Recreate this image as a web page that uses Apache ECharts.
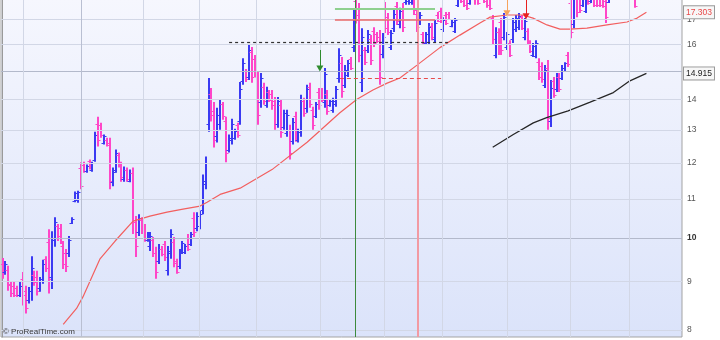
<!DOCTYPE html>
<html><head><meta charset="utf-8">
<script src="https://cdn.jsdelivr.net/npm/echarts@6/dist/echarts.min.js"></script>
<style>html,body{margin:0;padding:0;background:#fff}#c{width:720px;height:340px}</style>
</head><body><div id="c"></div>
<script>
// ---- OHLC bars (index = bar number) ----
const opens = [9.40,9.22,9.25,8.92,8.90,8.85,8.72,9.05,8.80,8.60,
8.80,9.15,9.10,8.85,9.05,9.50,9.90,9.10,9.95,10.30,
10.25,9.80,9.65,9.65,10.38,10.95,10.98,11.85,11.95,11.76,
12.05,11.80,12.10,13.20,13.15,12.60,12.70,12.60,11.45,11.80,
12.25,11.95,11.55,11.80,11.50,11.70,10.40,10.15,10.45,10.25,
9.95,9.80,9.95,9.65,9.45,9.75,9.85,9.25,9.65,9.90,
9.42,9.35,9.68,9.66,10.00,9.85,10.50,10.25,10.30,10.70,
11.40,13.20,14.20,13.60,12.80,13.20,13.85,13.30,12.40,12.70,
12.75,13.15,13.30,14.65,15.00,14.80,15.70,15.45,14.80,13.90,
14.45,13.80,14.25,14.20,13.95,13.20,13.80,13.10,12.90,13.00,
12.65,13.45,12.68,12.95,13.95,13.70,14.45,13.65,13.45,14.25,
14.30,13.90,14.20,13.80,13.65,13.85,14.75,15.30,14.50,14.85,
15.45,15.90,17.80,17.20,14.60,15.80,15.80,16.20,16.55,16.40,
16.30,15.65,17.50,17.10,15.90,16.65,17.55,16.80,17.50,17.75,
17.80,17.75,18.00,17.25,16.85,16.40,16.05,16.10,16.75,16.20,
17.20,17.35,16.60,17.20,17.25,16.72,16.55,17.60,18.10,17.95,
17.85,17.70,18.00,18.30,18.20,18.05,18.30,18.05,17.95,17.05,
15.60,16.50,16.90,16.30,15.90,16.05,16.20,16.60,16.70,17.10,
16.30,16.55,16.10,15.60,15.55,15.35,15.20,14.50,15.10,13.30,
14.65,14.35,14.80,14.75,15.02,15.60,17.70,16.80,18.10,17.90,
17.60,17.35,18.20,17.80,17.95,18.00,17.95,17.90,17.80,17.72,
18.15,18.95,18.20,18.75,18.50,17.95,18.40,17.95,17.95,17.95,
18.35,18.00,18.10];
const highs = [9.53,9.46,9.35,9.01,8.99,8.91,9.01,9.21,8.91,8.88,
9.57,9.24,9.24,9.10,9.49,9.57,10.22,10.17,10.52,10.35,
10.35,9.93,9.74,10.05,10.52,11.20,11.22,12.02,12.04,11.96,
12.10,12.04,12.95,13.43,13.23,12.86,12.76,12.76,11.87,12.40,
12.31,12.04,11.90,11.87,11.81,11.87,10.55,10.60,10.52,10.35,
10.15,10.15,10.03,9.79,9.86,9.81,9.93,9.81,10.22,10.03,
9.51,9.74,9.93,9.86,10.10,10.15,10.65,10.65,10.68,11.67,
12.19,14.75,14.40,13.92,13.72,13.99,13.92,13.43,12.86,13.36,
13.04,13.23,14.61,15.48,15.08,15.98,15.90,15.60,14.97,14.93,
14.58,14.44,14.33,14.33,14.09,14.09,13.99,13.66,13.66,13.17,
13.39,13.59,13.04,14.16,14.06,14.51,14.58,13.76,13.92,14.40,
14.40,15.11,14.33,13.99,14.06,14.47,15.86,15.52,15.22,15.41,
15.52,17.40,18.05,17.70,16.65,15.90,16.57,16.37,16.69,16.49,
16.57,16.45,17.74,17.27,16.57,17.40,17.74,17.49,17.70,18.30,
18.40,18.45,18.20,17.40,17.31,16.49,16.49,16.86,16.86,16.98,
17.31,17.49,17.10,17.31,17.31,16.98,17.06,18.30,18.20,18.05,
17.95,18.25,18.50,18.40,18.30,18.50,18.40,18.20,18.05,17.19,
16.69,16.65,17.06,17.27,16.49,16.17,17.06,17.19,17.27,17.19,
17.06,16.65,16.17,16.06,16.17,15.48,15.33,15.22,15.41,14.68,
14.79,14.93,14.93,15.22,15.33,15.71,17.95,18.20,18.30,18.05,
18.30,18.05,18.30,18.40,18.05,18.10,18.10,18.00,17.95,17.95,
19.00,19.10,19.00,18.90,18.60,18.70,18.50,18.40,18.05,18.40,
18.45,18.60,18.70];
const lows = [9.06,9.15,8.80,8.67,8.67,8.67,8.67,8.49,8.33,8.53,
8.59,8.91,8.70,8.78,8.95,9.21,8.74,8.84,9.79,9.93,
9.86,9.28,9.21,9.55,10.35,10.91,10.90,11.26,11.72,11.72,
11.81,11.75,12.04,12.49,12.76,12.55,12.49,11.26,11.34,11.72,
11.87,11.47,11.47,11.47,11.45,10.10,9.55,10.05,10.10,9.91,
9.91,9.69,9.55,9.06,9.39,9.57,9.46,9.13,9.51,9.32,
9.17,9.28,9.62,9.62,9.69,9.81,10.03,10.17,10.22,10.60,
11.26,12.95,13.27,12.46,12.61,13.01,13.33,12.02,12.31,12.55,
12.70,12.76,13.17,14.51,14.61,14.68,14.58,14.79,13.17,13.72,
13.82,13.72,13.92,13.66,13.01,13.07,12.76,13.01,12.79,12.10,
12.55,12.64,12.61,12.79,13.43,13.56,13.72,13.01,13.39,13.66,
13.92,13.72,13.49,13.76,13.56,13.76,14.58,14.06,14.40,14.79,
15.04,15.71,16.84,15.33,14.26,15.22,15.67,15.22,15.90,16.06,
14.51,15.48,16.45,16.37,15.79,16.49,16.78,16.65,16.49,17.62,
17.62,17.62,17.19,16.49,16.78,15.98,15.98,15.98,16.17,16.06,
16.90,16.86,16.49,16.78,16.98,16.69,16.45,17.53,17.70,17.53,
17.40,17.62,17.92,17.62,17.62,17.95,17.70,17.49,17.40,15.98,
15.48,15.60,15.60,16.17,15.79,15.52,16.06,16.49,16.57,16.57,
16.17,15.98,15.67,15.52,15.48,14.68,14.58,14.40,13.01,13.10,
14.06,14.26,14.26,14.68,14.97,15.15,16.25,16.65,17.10,17.27,
17.53,17.27,17.62,17.70,17.53,17.53,17.53,17.49,16.86,17.70,
18.05,18.20,18.10,17.95,17.90,17.90,17.92,17.90,17.49,17.90,
17.92,17.95,18.00];
const closes = [9.20,9.38,8.95,8.75,8.72,8.70,8.90,8.70,8.45,8.80,
9.30,8.98,8.80,9.02,9.40,9.30,9.05,9.95,10.40,10.05,
10.00,9.40,9.35,9.95,10.48,11.15,11.18,11.35,11.78,11.90,
11.88,12.00,12.85,12.70,12.85,12.80,12.55,11.50,11.75,12.30,
11.95,11.60,11.80,11.55,11.70,10.40,9.80,10.50,10.20,10.00,
10.10,10.05,9.65,9.20,9.75,9.62,9.55,9.70,10.10,9.45,
9.22,9.65,9.88,9.82,9.75,10.10,10.15,10.55,10.60,11.50,
12.00,14.30,13.50,12.70,13.50,13.85,13.45,12.30,12.75,13.20,
12.98,12.85,14.35,15.30,14.70,15.80,14.80,14.95,13.50,14.75,
13.95,14.30,14.00,13.80,13.20,13.95,12.95,13.55,13.50,12.30,
13.25,12.80,12.95,13.95,13.55,14.35,13.85,13.15,13.85,13.80,
14.00,14.90,13.60,13.95,13.95,14.35,15.60,14.30,15.05,15.30,
15.10,17.10,17.00,15.60,16.30,15.35,16.40,15.40,16.05,16.15,
14.80,16.30,16.65,16.50,16.45,17.25,16.95,17.35,16.70,18.15,
18.25,18.30,17.40,16.70,17.20,16.10,16.40,16.70,16.30,16.85,
16.95,16.95,17.00,16.85,17.02,16.92,16.98,18.15,17.78,17.60,
17.50,18.10,18.40,17.85,17.70,18.40,17.80,17.60,17.50,16.20,
16.50,15.75,15.80,17.10,16.40,15.60,16.90,17.05,17.15,16.65,
16.95,16.10,15.75,15.95,16.05,14.80,14.70,15.05,13.40,14.40,
14.15,14.80,14.35,15.10,15.28,15.25,16.50,18.00,17.30,17.40,
18.15,17.95,17.70,18.30,17.60,17.60,17.62,17.55,17.10,17.90,
18.85,18.35,18.80,18.10,18.00,18.55,17.95,18.30,17.55,18.30,
17.95,18.50,18.55];

// ---- indicator lines (bar index, price) ----
const maIdx = [20.9,25.5,27.7,33.6,38.8,45.0,50.8,56.7,62.2,68.1,70.5,75.0,81.9,92.9,105.0,116.3,122.2,127.7,132.6,137.0,142.9,150.8,157.7,164.6,168.1,173.9,179.4,182.9,187.7,192.2,195.6,201.5,208.4,215.3,218.8,222];
const maVal = [8.11,8.43,8.67,9.51,9.93,10.42,10.55,10.65,10.73,10.81,10.91,11.12,11.29,11.81,12.62,13.56,14.01,14.33,14.57,14.75,15.22,15.88,16.37,16.86,17.10,17.19,17.19,17.06,16.78,16.61,16.61,16.65,16.78,16.90,17.06,17.303];
const trendIdx = [169,176.1,183,187.6,195,202.6,210.6,216.3,222];
const trendVal = [12.47,12.86,13.23,13.40,13.62,13.91,14.24,14.65,14.915];

// ---- axis ticks / labels ----
const yTicks = [8,9,10,11,12,13,14,15,16,17];
const yLabels = [8,9,10,11,12,13,14,16,17];
const lastPrices = [17.303, 14.915];
const periodLines = [7,27,48.4,67.7,87.4,109.5,131.5,151.5,174,195.6,216];

// ---- drawn annotations (bar index, price) ----
const vGreenAt = 121.6, vRedAt = 143.1;
const dashedBlack = {from:78.1, to:153.6, price:16.07};
const greenLevel = {from:114.6, to:149.1, price:17.46};
const redLevel = {from:114.6, to:149.1, price:17.0};
const redDashed = {from:116.3, to:151.2, price:14.76};
const arrowGreen = {at:109.4, from:15.79, to:15.10};
const arrowOrange = {at:173.9, from:17.87, to:17.26};
const arrowRed = {at:180.5, from:17.87, to:17.14};

const Y_MIN = 7.866, Y_MAX = 17.87;
const BLUE = '#3a3af2', PINK = '#ff46c8';
const FONT = '"Liberation Sans", Arial, sans-serif';

const barData = opens.map((o,i)=>[i, o, highs[i], lows[i], closes[i]]);
const maData = maIdx.map((x,i)=>[x, maVal[i]]);
const trendData = trendIdx.map((x,i)=>[x, trendVal[i]]);

const chart = echarts.init(document.getElementById('c'), null, {renderer:'canvas'});
const gridLinesMark = [];
yTicks.forEach(v=>gridLinesMark.push({yAxis:v, lineStyle:{color:(v===10||v===15)?'#b3b9cb':'#d2d7e6', width:1, type:'solid'}}));
periodLines.forEach(x=>gridLinesMark.push({xAxis:x, lineStyle:{color:x===27?'#b9bfd2':'#d2d7e6', width:1, type:'solid'}}));

function seg(s, style){ return [{coord:[s.from, s.price], symbol:'none'}, {coord:[s.to, s.price], symbol:'none', lineStyle:style}]; }
function arrow(a, color){ return [{coord:[a.at, a.from], symbol:'none'}, {coord:[a.at, a.to], symbol:'triangle', symbolSize:[7,6], lineStyle:{color:color, width:1, type:'solid'}, itemStyle:{color:color}}]; }

chart.setOption({
  animation:false,
  backgroundColor:'#ffffff',
  grid:{left:1, right:38, top:-1, bottom:3, show:true, outerBoundsMode:'none',
    borderColor:'#a3a3a3', borderWidth:1,
    backgroundColor:{type:'linear', x:0, y:0, x2:0, y2:1, colorStops:[{offset:0,color:'#f6f7fe'},{offset:1,color:'#dbe3fa'}]}},
  xAxis:{type:'value', min:-0.55, max:234.27, show:false},
  yAxis:[
    {type:'log', logBase:10, min:Y_MIN, max:Y_MAX, position:'right',
     axisLine:{show:true, lineStyle:{color:'#9a9a9a'}},
     axisTick:{show:true, length:3, customValues:yTicks, lineStyle:{color:'#8a8a8a'}},
     splitLine:{show:false}, minorTick:{show:false},
     axisLabel:{customValues:yLabels, margin:5, fontSize:8.5, color:'#555', fontFamily:FONT,
       formatter:v=>{const r=Math.round(v); return r===10?'{b|10}':String(r);},
       rich:{b:{fontWeight:'bold', fontSize:8.5, color:'#333', fontFamily:FONT}}}},
    {type:'log', logBase:10, min:Y_MIN, max:Y_MAX, position:'right',
     axisLine:{show:false}, axisTick:{show:false}, splitLine:{show:false},
     axisLabel:{customValues:lastPrices, margin:2, fontSize:8.5, fontFamily:FONT,
       formatter:v=>Number(v).toFixed(3),
       color:(v)=> Number(v)>16 ? '#e84848' : '#222',
       backgroundColor:'#f7f7f7', borderColor:'#9a9a9a', borderWidth:1, padding:[2,2,1,2]}}
  ],
  graphic:[{type:'text', left:3, top:328, z:100, style:{text:'© ProRealTime.com', font:'8px '+FONT, fill:'#3a3a3a'}}],
  series:[
    {type:'line', data:[], z:1, silent:true,
     markLine:{silent:true, symbol:'none', label:{show:false}, animation:false, data:gridLinesMark}},
    {type:'custom', z:3, clip:true, silent:true, data:barData, encode:{x:0, y:[1,2,3,4]},
     renderItem:(params, api)=>{
       const x=api.value(0), o=api.value(1), h=api.value(2), l=api.value(3), c=api.value(4);
       const pH=api.coord([x,h]), pL=api.coord([x,l]), pO=api.coord([x,o]), pC=api.coord([x,c]);
       const col = c>=o ? BLUE : PINK;
       const px = Math.round(pH[0]);
       return {type:'group', children:[
         {type:'line', shape:{x1:px, y1:pH[1], x2:px, y2:pL[1]}, style:{stroke:col, lineWidth:2}},
         {type:'line', shape:{x1:px-2.5, y1:Math.round(pO[1])+0.5, x2:px, y2:Math.round(pO[1])+0.5}, style:{stroke:col, lineWidth:1}},
         {type:'line', shape:{x1:px, y1:Math.round(pC[1])+0.5, x2:px+2.5, y2:Math.round(pC[1])+0.5}, style:{stroke:col, lineWidth:1}}
       ]};
     }},
    {type:'line', z:4, data:maData, symbol:'none', silent:true, lineStyle:{color:'#f25f5f', width:1.2}},
    {type:'line', z:4, data:trendData, symbol:'none', silent:true, lineStyle:{color:'#262626', width:1.3}},
    {type:'line', data:[], z:5, silent:true,
     markLine:{silent:true, symbol:'none', label:{show:false}, animation:false,
       data:[
         {xAxis:vGreenAt, lineStyle:{color:'#3d8a3d', width:1, type:'solid'}},
         {xAxis:vRedAt, lineStyle:{color:'#f29aa3', width:2, type:'solid'}},
         seg(dashedBlack, {color:'#333', width:1.2, type:[3,3]}),
         seg(greenLevel, {color:'#8fd08f', width:2, type:'solid'}),
         seg(redLevel, {color:'#e96a6a', width:1.5, type:'solid'}),
         seg(redDashed, {color:'#e84c4c', width:1.2, type:[4,3]}),
         arrow(arrowGreen, '#2e8b2e'),
         arrow(arrowOrange, '#f7a35c'),
         arrow(arrowRed, '#e8201f')
       ]}}
  ]
});
</script></body></html>
